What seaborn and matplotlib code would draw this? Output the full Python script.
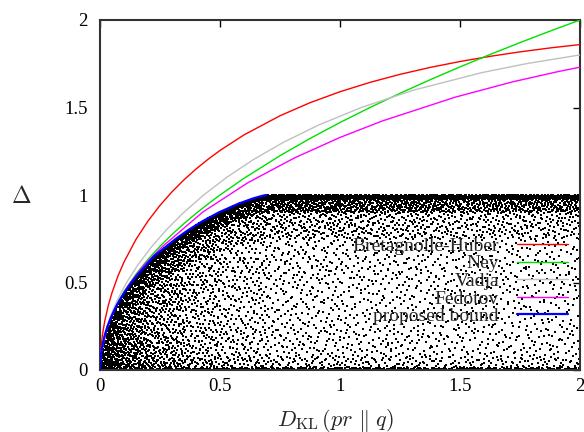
import numpy as np
import pandas as pd
import matplotlib
matplotlib.use("Agg")
import matplotlib.pyplot as plt
import seaborn as sns

# ---------------- data ----------------
# Bretagnolle-Huber (red) and Ney (green) sampled on a common D grid
d_grid = [0, 0.0005, 0.002, 0.005, 0.01, 0.02, 0.035, 0.05, 0.075, 0.1, 0.15,
          0.2, 0.25, 0.3, 0.35, 0.4, 0.45, 0.5, 0.6, 0.75, 0.875, 1.0, 1.125,
          1.25, 1.375, 1.5, 1.625, 1.75, 1.875, 2.0]
bh_delta = [0, 0.0447, 0.0894, 0.1412, 0.1995, 0.2814, 0.3709, 0.4417, 0.5376,
            0.6170, 0.7464, 0.8515, 0.9406, 1.0182, 1.0869, 1.1484, 1.2039,
            1.2545, 1.3434, 1.4528, 1.5273, 1.5901, 1.6436, 1.6894, 1.7288,
            1.7628, 1.7923, 1.8179, 1.8403, 1.8597]
ney_delta = [0, 0.0316, 0.0632, 0.1, 0.1414, 0.2, 0.2646, 0.3162, 0.3873,
             0.4472, 0.5477, 0.6325, 0.7071, 0.7746, 0.8367, 0.8944, 0.9487,
             1.0, 1.0954, 1.2247, 1.3229, 1.4142, 1.5, 1.5811, 1.6583, 1.7321,
             1.8028, 1.8708, 1.9365, 2.0]

# Vadja (gray)
vadja_d = [0, 0.0012, 0.00484, 0.01885, 0.04141, 0.07214, 0.11083, 0.1575,
           0.21237, 0.27587, 0.34871, 0.43195, 0.52708, 0.63629, 0.76272,
           0.91107, 1.08877, 1.30833, 1.59339, 1.77472, 2.0]
vadja_delta = [0, 0.05, 0.1, 0.2, 0.3, 0.4, 0.5, 0.6, 0.7, 0.8, 0.9, 1.0, 1.1,
               1.2, 1.3, 1.4, 1.5, 1.6, 1.7, 1.75, 1.8005]

# Fedotov (magenta)
fedotov_d = [0, 0.005, 0.0309, 0.0687, 0.120, 0.1833, 0.260, 0.4276, 0.6166,
             0.8106, 0.9991, 1.1753, 1.4794, 1.7195, 1.9084, 2.0]
fedotov_delta = [0, 0.0999, 0.2483, 0.3692, 0.4866, 0.5993, 0.7051, 0.9020,
                 1.0706, 1.2121, 1.3284, 1.4226, 1.5588, 1.6467, 1.7051, 1.7306]

# proposed bound (blue)
prop_d = [0, 0.00125, 0.00501, 0.01129, 0.02014, 0.03158, 0.0457, 0.06257,
          0.08228, 0.10498, 0.13081, 0.15998, 0.19274, 0.22441, 0.2704,
          0.31638, 0.3681, 0.42677, 0.49463, 0.57624, 0.63715, 0.67567, 0.6931]
prop_delta = [0, 0.05, 0.1, 0.15, 0.2, 0.25, 0.3, 0.35, 0.4, 0.45, 0.5, 0.55,
              0.6, 0.65, 0.7, 0.75, 0.8, 0.85, 0.9, 0.95, 0.98, 0.995, 1.0]

# upper edge of the sample cloud
cloud_top_d = prop_d + [2.0]
cloud_top_delta = prop_delta + [1.0]

# density of the sample cloud (dots per pixel^2),
# by D band (rows) and relative height under the cloud top (columns)
cloud_d_edges = [0, 0.03, 0.1, 0.2, 0.35, 0.5, 0.7, 1.0, 1.4, 2.0]
cloud_h_edges = [0, 0.015, 0.08, 0.25, 0.5, 0.75, 0.9, 0.975, 1.0]
cloud_density = [
    [0.55, 0.55, 0.50, 0.45, 0.45, 0.50, 0.55, 0.65],
    [0.50, 0.40, 0.32, 0.30, 0.32, 0.40, 0.50, 0.70],
    [0.45, 0.28, 0.20, 0.17, 0.20, 0.30, 0.45, 0.75],
    [0.40, 0.17, 0.12, 0.10, 0.12, 0.22, 0.40, 0.75],
    [0.35, 0.11, 0.075, 0.065, 0.075, 0.15, 0.35, 0.80],
    [0.33, 0.085, 0.055, 0.045, 0.05, 0.11, 0.30, 0.85],
    [0.30, 0.065, 0.038, 0.033, 0.038, 0.085, 0.25, 0.90],
    [0.30, 0.06, 0.034, 0.029, 0.034, 0.075, 0.22, 0.85],
    [0.28, 0.055, 0.030, 0.026, 0.030, 0.065, 0.19, 0.80],
]

x_ticks = [0, 0.5, 1, 1.5, 2]
y_ticks = [0, 0.5, 1, 1.5, 2]
x_tick_labels = ["0", "0.5", "1", "1.5", "2"]
y_tick_labels = ["0", "0.5", "1", "1.5", "2"]

# ---------------- build cloud deterministically ----------------
PX_X, PX_Y = 240.0, 175.0  # pixels per data unit
LEAP = 17


def halton(idx, base):
    out = np.zeros(len(idx))
    for j, i in enumerate(idx):
        f, r, k = 1.0, 0.0, int(i) * LEAP + 1
        while k > 0:
            f /= base
            r += f * (k % base)
            k //= base
        out[j] = r
    return out


xs, ys = [], []
start = 0
for a in range(len(cloud_d_edges) - 1):
    d0, d1 = cloud_d_edges[a], cloud_d_edges[a + 1]
    fine = np.linspace(d0, d1, 200)
    env_int = np.trapezoid(np.interp(fine, cloud_top_d, cloud_top_delta), fine)
    for b in range(len(cloud_h_edges) - 1):
        h0, h1 = cloud_h_edges[b], cloud_h_edges[b + 1]
        area_px = env_int * (h1 - h0) * PX_X * PX_Y
        n = int(round(cloud_density[a][b] * area_px))
        if n <= 0:
            continue
        idx = np.arange(start, start + n)
        start += n
        u = halton(idx, 2)
        v = halton(idx, 3)
        dd = d0 + u * (d1 - d0)
        hh = h0 + v * (h1 - h0)
        xs.append(dd)
        ys.append(hh * np.interp(dd, cloud_top_d, cloud_top_delta))
cloud = pd.DataFrame({"D": np.concatenate(xs), "Delta": np.concatenate(ys)})

# ---------------- plot ----------------
sns.set_theme(style="white")
plt.rcParams["font.family"] = ["Liberation Serif", "DejaVu Serif"]
plt.rcParams["mathtext.fontset"] = "cm"

fig = plt.figure(figsize=(5.84, 4.32), dpi=100)
ax = fig.add_axes([100 / 584, 62 / 432, 480 / 584, 350 / 432])

sns.scatterplot(data=cloud, x="D", y="Delta", ax=ax, color="black", marker="s",
                s=0.9, linewidth=0, legend=False, zorder=1)

sns.lineplot(x=d_grid, y=bh_delta, ax=ax, color="#ff0000", lw=1.0,
             estimator=None, sort=False, label="Bretagnolle-Huber", zorder=3)
sns.lineplot(x=d_grid, y=ney_delta, ax=ax, color="#00e000", lw=1.0,
             estimator=None, sort=False, label="Ney", zorder=3)
sns.lineplot(x=vadja_d, y=vadja_delta, ax=ax, color="#c0c0c0", lw=1.0,
             estimator=None, sort=False, label="Vadja", zorder=3)
sns.lineplot(x=fedotov_d, y=fedotov_delta, ax=ax, color="#ff00ff", lw=1.0,
             estimator=None, sort=False, label="Fedotov", zorder=3)
sns.lineplot(x=prop_d, y=prop_delta, ax=ax, color="#0000ff", lw=1.6,
             estimator=None, sort=False, label="proposed bound", zorder=4)

ax.set_xlim(0, 2)
ax.set_ylim(0, 2)
ax.set_xticks(x_ticks)
ax.set_xticklabels(x_tick_labels)
ax.set_yticks(y_ticks)
ax.set_yticklabels(y_tick_labels)
ax.tick_params(axis="both", direction="in", length=5, width=1, colors="black",
               labelsize=13.5, top=True, right=True)
ax.tick_params(axis="x", pad=6)
ax.tick_params(axis="y", pad=9)
for sp in ax.spines.values():
    sp.set_visible(True)
    sp.set_color("#333333")
    sp.set_linewidth(1.5)

ax.set_xlabel(r"$D_{\mathrm{KL}}\,(pr\ \|\ q)$", fontsize=16)
ax.xaxis.set_label_coords(0.49, -0.143)
ax.xaxis.label.set_va("center")
ax.set_ylabel(r"$\Delta$", fontsize=17, rotation=0)
ax.yaxis.set_label_coords(-0.165, 0.494)
ax.yaxis.label.set_va("center")
ax.yaxis.label.set_ha("center")

ax.legend(loc="lower right", bbox_to_anchor=(0.975, 0.128), frameon=False,
          markerfirst=False, fontsize=14, handlelength=2.6, labelspacing=0.0,
          handletextpad=0.95, borderaxespad=0, borderpad=0)

fig.savefig("out.png", dpi=100)
